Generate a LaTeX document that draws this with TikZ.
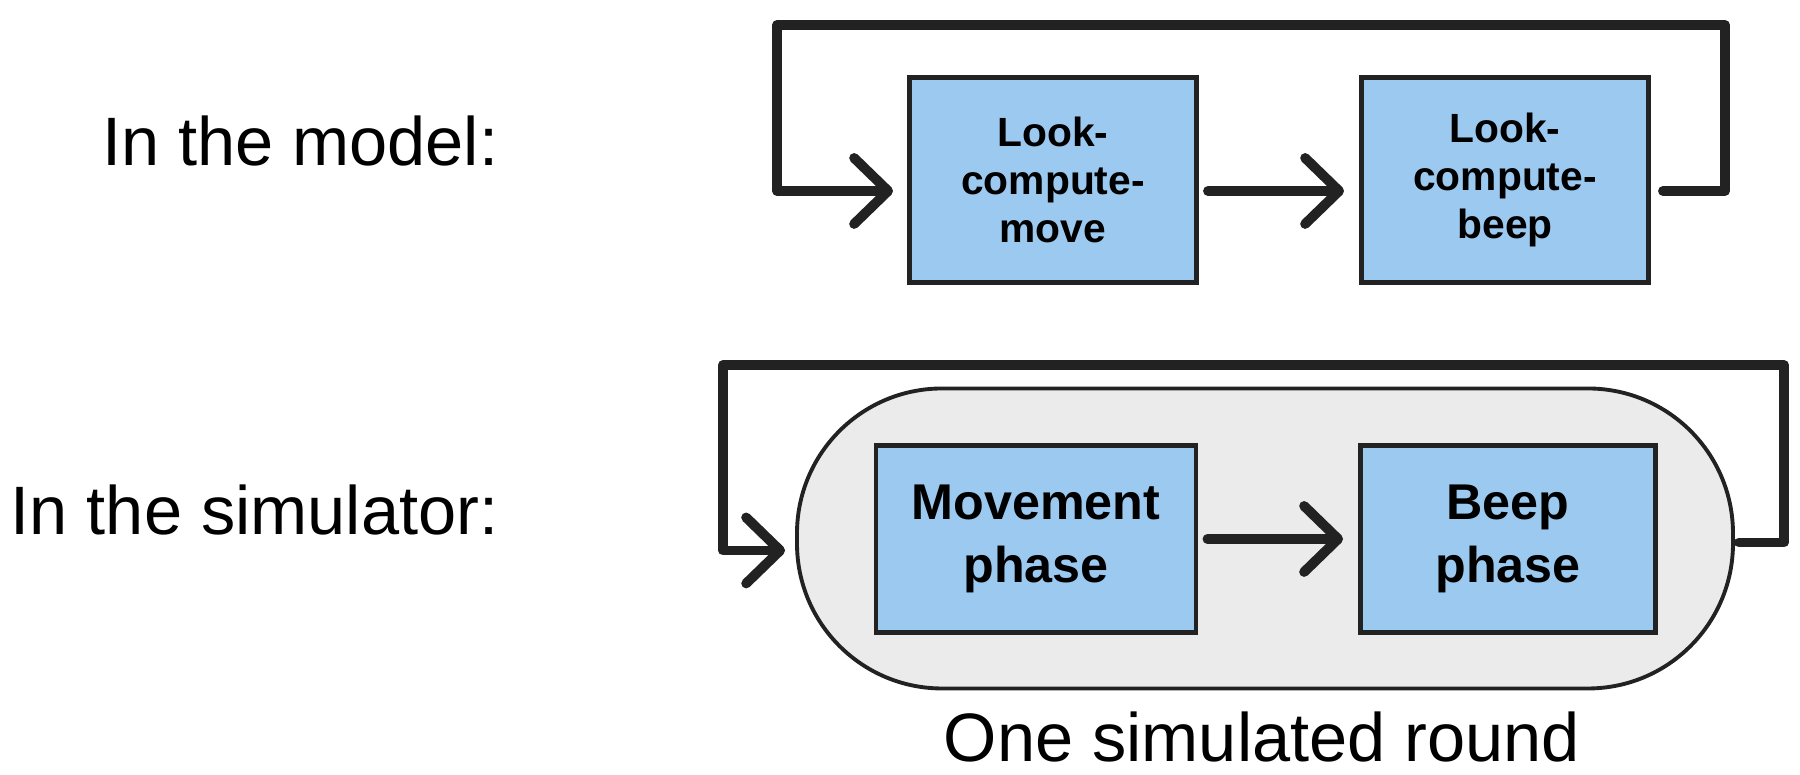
\documentclass[tikz,border=0pt]{standalone}
\usepackage{fontspec}
\setmainfont{Liberation Sans}
\usepackage{tikz}
\usetikzlibrary{arrows.meta}
\definecolor{boxblue}{HTML}{9BC9EF}
\definecolor{roundgray}{HTML}{EBEBEB}
\definecolor{inkgray}{HTML}{222222}
\tikzset{
  box/.style={draw=inkgray, line width=1.4pt, fill=boxblue, align=center},
  flow/.style={draw=inkgray, line width=2.8pt, line cap=round, line join=round,
    -{Straight Barb[length=3.4mm, width=6.6mm, round]}},
  lbl/.style={font=\fontsize{19.5}{23}\selectfont}
}

\begin{document}
\begin{tikzpicture}[every node/.style={inner sep=0pt}]
  \useasboundingbox (0, 0) rectangle (18, 7.75);

  \node[lbl, anchor=base east] at (4.99, 6.09) (model) {In the model:};
  \node[lbl, anchor=base east] at (4.99, 2.40) (sim)   {In the simulator:};

  \node[box, minimum width=2.87cm, minimum height=2.05cm,
        font=\bfseries\fontsize{11.6}{13.6}\selectfont] at (10.53, 5.95) (lcm) {Look-\\compute-\\move};
  \node[box, minimum width=2.87cm, minimum height=2.05cm,
        font=\bfseries\fontsize{11.6}{13.6}\selectfont] at (15.05, 5.95) (lcb) {Look-\\compute-\\beep};

  \coordinate (topR) at (17.25, 7.50);
  \coordinate (topL) at (7.77, 7.50);

  \draw[flow, shorten <=0.09cm, shorten >=0.15cm] ([yshift=-0.11cm]lcm.east) -- ([yshift=-0.11cm]lcb.west);
  \draw[flow, shorten <=0.12cm, shorten >=0.14cm] ([yshift=-0.11cm]lcb.east) -| (topR) -- (topL) |- ([yshift=-0.11cm]lcm.west);

  \node[draw=inkgray, line width=1.1pt, fill=roundgray, rounded corners=1.45cm,
        minimum width=9.36cm, minimum height=3.0cm] at (12.65, 2.365) (rnd) {};

  \node[box, minimum width=3.2cm, minimum height=1.87cm,
        font=\bfseries\fontsize{14.3}{18}\selectfont] at (10.36, 2.36) (mvp) {Movement\\phase};
  \node[box, minimum width=2.95cm, minimum height=1.87cm,
        font=\bfseries\fontsize{14.3}{18}\selectfont] at (15.08, 2.36) (bpp) {Beep\\phase};

  \coordinate (topR2) at (17.84, 4.10);
  \coordinate (topL2) at (7.23, 4.10);

  \draw[flow, shorten <=0.09cm, shorten >=0.15cm] (mvp.east) -- (bpp.west);
  \draw[flow, shorten <=0.04cm, shorten >=0.10cm] ([yshift=-0.04cm]rnd.east) -| (topR2) -- (topL2) |- ([yshift=-0.12cm]rnd.west);

  \node[lbl, anchor=base] at (12.62, 0.13) (cap) {One simulated round};
\end{tikzpicture}
\end{document}
